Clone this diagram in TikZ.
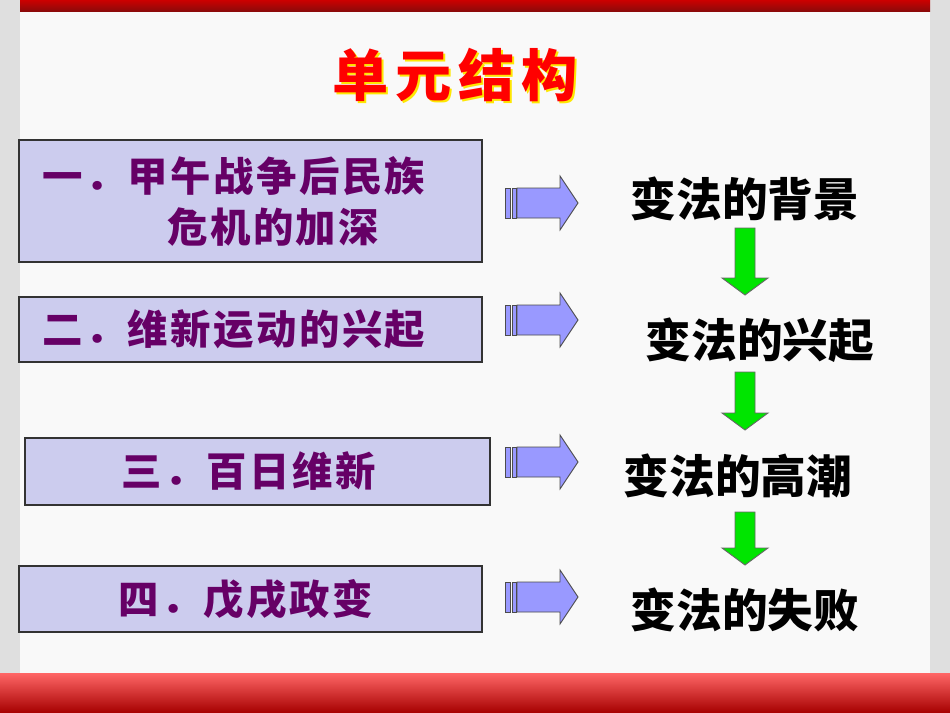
\documentclass[tikz,border=0pt]{standalone}
\usepackage{fontspec}
\newfontfamily\cjk{Noto Sans CJK SC}
\newfontfamily\cjkb[LetterSpace=12]{Noto Sans CJK SC Black}
\newfontfamily\cjkl[LetterSpace=6]{Noto Sans CJK SC}
\definecolor{boxfill}{HTML}{CCCCEE}
\definecolor{purp}{HTML}{660066}
\definecolor{barred}{HTML}{C01010}
\definecolor{arblue}{HTML}{9999FF}
\begin{document}
\begin{tikzpicture}[x=0.02cm,y=-0.02cm,
  lbox/.style={draw=black!80,fill=boxfill,line width=0.8pt,inner sep=0pt},
  ltext/.style={text=purp,font=\cjkl\bfseries\fontsize{23}{29}\selectfont,align=left},
  rtext/.style={font=\cjk\bfseries\fontsize{26}{30}\selectfont},
  barrow/.style={fill=arblue,draw=black!70,line width=0.5pt},
  garrow/.style={fill=green!90!black,draw=black!60,line width=0.5pt}]
\useasboundingbox (0,0) rectangle (950,713);
\fill[gray!25] (0,0) rectangle (950,713);
\fill[white!95!gray] (20,0) rectangle (930,673);
\shade[top color=red!80!black, bottom color=barred!70!black] (20,0) rectangle (930,12);
\shade[top color=red!60, bottom color=red!65!black] (0,673) rectangle (950,713);
\node[text=yellow!90!orange,font=\cjkb\fontsize{32}{32}\selectfont] (tshadow) at (457,77) {单元结构};
\node[text=red,font=\cjkb\fontsize{32}{32}\selectfont] (title) at (455,75) {单元结构};
% left boxes
\node[lbox,minimum width=463*0.02cm,minimum height=122*0.02cm] (b1) at (250.5,201) {};
\node[ltext,anchor=west] (t1) at (36,201) {一．甲午战争后民族\\\hspace{3.1em}危机的加深};
\node[lbox,minimum width=463*0.02cm,minimum height=65*0.02cm] (b2) at (250.5,329.5) {};
\node[ltext,anchor=west] (t2) at (36,329.5) {二．维新运动的兴起};
\node[lbox,minimum width=465*0.02cm,minimum height=67*0.02cm] (b3) at (257.5,471.5) {};
\node[ltext,anchor=west] (t3) at (115,471.5) {三．百日维新};
\node[lbox,minimum width=463*0.02cm,minimum height=66*0.02cm] (b4) at (250.5,599) {};
\node[ltext,anchor=west] (t4) at (112,599) {四．戊戌政变};
% blue arrows
\foreach \y in {203,320,462,597}{
  \draw[barrow] (505,\y-15) rectangle (510,\y+15);
  \draw[barrow] (512,\y-15) rectangle (516,\y+15);
  \draw[barrow] (517,\y-15) -- (560,\y-15) -- (560,\y-27) -- (578,\y) -- (560,\y+27) -- (560,\y+15) -- (517,\y+15) -- cycle;
}
% right texts
\node[rtext] (r1) at (745,199) {变法的背景};
\node[rtext] (r2) at (760,340) {变法的兴起};
\node[rtext] (r3) at (738,476) {变法的高潮};
\node[rtext] (r4) at (745,610) {变法的失败};
% green arrows
\foreach \x/\ya/\yb in {745/228/295,745/372/430,745/512/565}{
  \draw[garrow] (\x-10,\ya) -- (\x+10,\ya) -- (\x+10,\yb-17) -- (\x+23,\yb-17) -- (\x,\yb) -- (\x-23,\yb-17) -- (\x-10,\yb-17) -- cycle;
}
\end{tikzpicture}
\end{document}
